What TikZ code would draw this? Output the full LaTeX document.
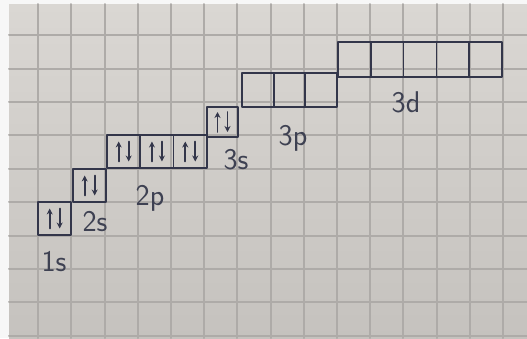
\documentclass[tikz,border=0pt]{standalone}
\usepackage{tikz}
\usetikzlibrary{arrows.meta,calc,positioning}
\usepackage{xcolor}
\definecolor{paper}{HTML}{DAD7D3}
\definecolor{paperdark}{HTML}{C5C2BE}
\definecolor{gridcol}{HTML}{AEABA8}
\definecolor{ink}{HTML}{33364A}
\newcommand{\spinshift}{5pt}
\tikzset{
  grid line/.style={draw=gridcol,line width=2pt},
  orbital box/.style={draw=ink,line width=1.7pt,minimum width=33.3pt,minimum height=33pt,
    inner sep=0pt,outer sep=0pt,anchor=north west},
  spin/.style={draw=ink,line width=1.7pt,-{Stealth[length=6pt,width=6pt]}},
  shell label/.style={text=ink!85!gray,font=\sffamily\fontsize{30}{30}\selectfont,inner sep=1pt}
}
\newcommand{\SpinPair}[1]{%
  \draw[spin] ([xshift=-\spinshift,yshift=-10pt]#1.center) -- ([xshift=-\spinshift,yshift=10pt]#1.center);
  \draw[spin] ([xshift=\spinshift,yshift=10pt]#1.center) -- ([xshift=\spinshift,yshift=-10pt]#1.center);}

\begin{document}
\begin{tikzpicture}[x=1pt,y=-1pt,line cap=round,line join=round]
  \useasboundingbox (0,0) rectangle (527,338);
  \fill[white!94!gray] (0,0) rectangle (527,338);
  \shade[top color=paper,bottom color=paperdark] (9,4) rectangle (527,338);
  \foreach \i in {1,...,15} {\draw[grid line] ({5+33.2*\i},4) -- ({5+33.2*\i},338);}
  \foreach \j in {1,...,10} {\draw[grid line] (9,{1.8+33.4*\j}) -- (527,{1.8+33.4*\j});}

  % filled shells
  \node[orbital box] (s1) at (38,202) {};
  \node[orbital box] (s2) at (73,169) {};
  \node[orbital box] (p2a) at (107,135) {};
  \node[orbital box,right=0pt of p2a] (p2b) {};
  \node[orbital box,right=0pt of p2b] (p2c) {};
  \node[orbital box,minimum width=31pt,minimum height=30pt] (s3) at (207,107) {};
  \foreach \b in {s1,s2,p2a,p2b,p2c,s3} {\SpinPair{\b}}

  % empty shells
  \foreach \n/\x in {p3a/242,p3b/273.7,p3c/305.3}
    {\node[orbital box,minimum width=31.7pt,minimum height=34pt] (\n) at (\x,73) {};}
  \foreach \n/\x in {d3a/338,d3b/370.8,d3c/403.6,d3d/436.4,d3e/469.2}
    {\node[orbital box,minimum width=32.8pt,minimum height=35pt] (\n) at (\x,42) {};}

  \node[shell label] (l1s) at (54,262) {1s};
  \node[shell label] (l2s) at (95,222) {2s};
  \node[shell label] (l2p) at (150,198) {2p};
  \node[shell label] (l3s) at (236,160) {3s};
  \node[shell label] (l3p) at (293,138) {3p};
  \node[shell label] (l3d) at (406,102) {3d};
\end{tikzpicture}
\end{document}
